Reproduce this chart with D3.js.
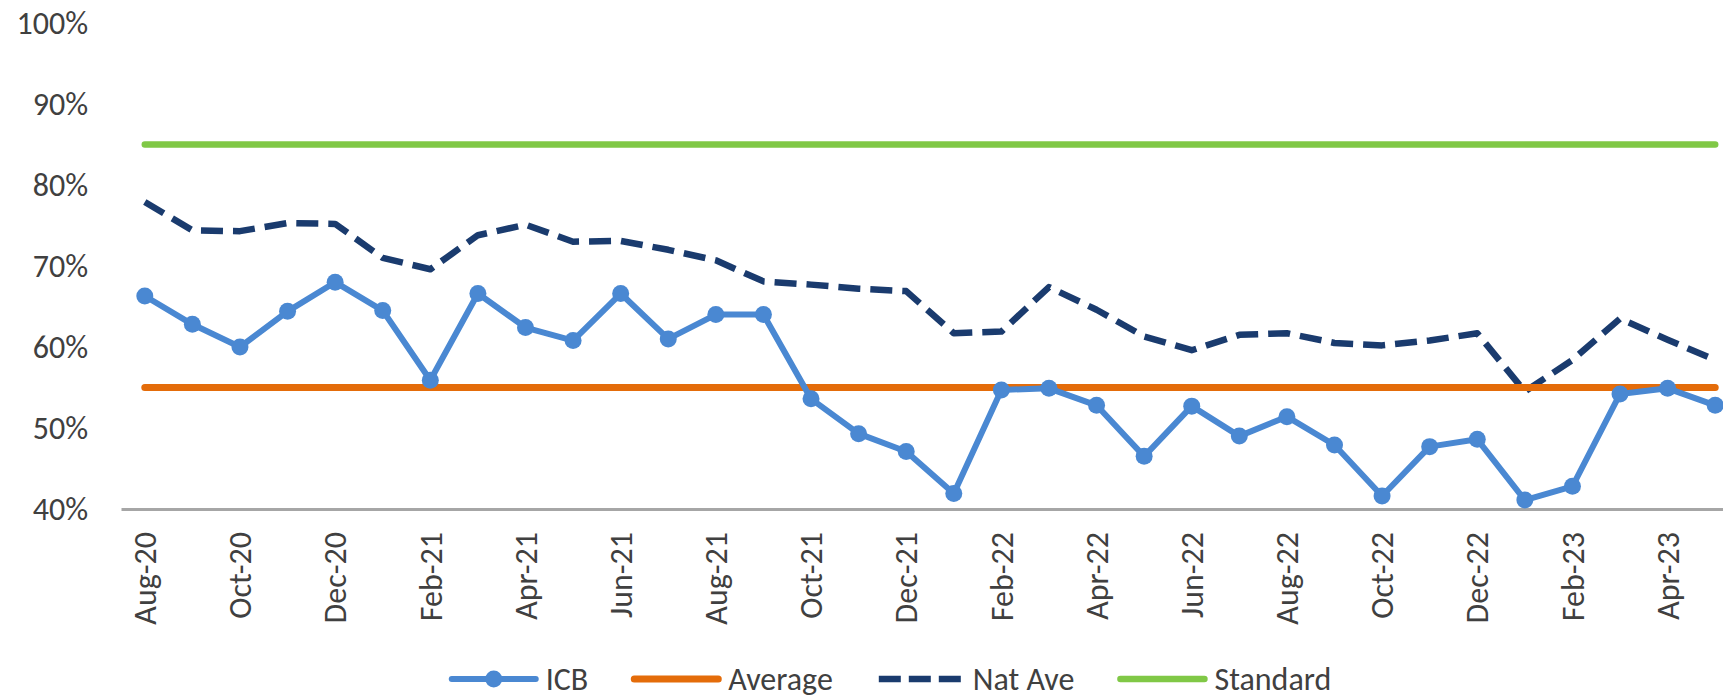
<!DOCTYPE html>
<html>
<head>
<meta charset="utf-8">
<script src="https://cdn.jsdelivr.net/npm/d3@7"></script>
<style>
    body { margin: 0; background: #fff; }
    #chart-area { width: 1723px; height: 698px; }
    text { font-family: Carlito, Lato, "Open Sans", sans-serif; fill: #404040; }
</style>
</head>
<body>
<div id="chart-area"></div>
<script>
// Months on the x axis
const months = ["Aug-20", "Sep-20", "Oct-20", "Nov-20", "Dec-20", "Jan-21", "Feb-21", "Mar-21", "Apr-21", "May-21",
    "Jun-21", "Jul-21", "Aug-21", "Sep-21", "Oct-21", "Nov-21", "Dec-21", "Jan-22", "Feb-22", "Mar-22",
    "Apr-22", "May-22", "Jun-22", "Jul-22", "Aug-22", "Sep-22", "Oct-22", "Nov-22", "Dec-22", "Jan-23",
    "Feb-23", "Mar-23", "Apr-23", "May-23"];

// Series values (%)
const icb = [66.3, 62.8, 60.0, 64.4, 68.0, 64.5, 55.9, 66.6, 62.4, 60.8,
    66.6, 61.0, 64.0, 64.0, 53.6, 49.3, 47.1, 41.9, 54.7, 54.9,
    52.8, 46.5, 52.7, 49.0, 51.4, 47.9, 41.6, 47.7, 48.6, 41.1,
    42.8, 54.2, 54.9, 52.8];
const natAve = [77.9, 74.4, 74.3, 75.3, 75.2, 71.0, 69.6, 73.8, 75.1, 73.0,
    73.1, 72.0, 70.7, 68.1, 67.7, 67.2, 66.9, 61.7, 61.9, 67.4,
    64.6, 61.3, 59.6, 61.5, 61.7, 60.5, 60.2, 60.8, 61.7, 54.5,
    58.4, 63.5, 60.9, 58.4];
const averageValue = 55;
const standardValue = 85;

// Axis ticks
const yTicks = [40, 50, 60, 70, 80, 90, 100];
const xTickLabels = months.filter((d, i) => i % 2 === 0);

// Legend entries
const legendNames = ["ICB", "Average", "Nat Ave", "Standard"];

let margin = {top: 23, left: 121};
let width = 1618, height = 486;
let fontSize = "32px";

let svg = d3.select("#chart-area").append("svg")
    .attr("width", 1723)
    .attr("height", 698);

let g = svg.append("g")
    .attr("transform", `translate(${margin.left},${margin.top})`);

// Scales
let x = d3.scaleBand().domain(months).range([0, width]);
let y = d3.scaleLinear().domain([40, 100]).range([height, 0]);
let cx = d => x(d) + x.bandwidth() / 2;

// Y axis (labels only)
let yAxis = g.append("g")
    .call(d3.axisLeft(y).tickValues(yTicks).tickFormat(d => d + "%").tickSize(0).tickPadding(33));
yAxis.select(".domain").remove();
yAxis.selectAll("text")
    .style("font-size", fontSize)
    .style("font-family", null)
    .attr("fill", null);

// X axis
let xAxis = g.append("g")
    .attr("transform", `translate(0,${height})`)
    .call(d3.axisBottom(x).tickValues(xTickLabels).tickSize(0).tickSizeOuter(0));
xAxis.select(".domain")
    .attr("stroke", "#a6a6a6")
    .attr("stroke-width", 3);
xAxis.selectAll("text")
    .attr("fill", null)
    .style("font-family", null)
    .style("font-size", fontSize)
    .attr("transform", "rotate(-90)")
    .attr("text-anchor", "end")
    .attr("x", -23)
    .attr("y", 0)
    .attr("dy", "0.35em");

let line = d3.line()
    .x(d => cx(d.month))
    .y(d => y(d.value));

let icbData = months.map((m, i) => ({month: m, value: icb[i]}));
let natData = months.map((m, i) => ({month: m, value: natAve[i]}));
let avgData = months.map(m => ({month: m, value: averageValue}));
let stdData = months.map(m => ({month: m, value: standardValue}));

// Standard
g.append("path")
    .datum(stdData)
    .attr("d", line)
    .attr("fill", "none")
    .attr("stroke", "#80c846")
    .attr("stroke-width", 6.5)
    .attr("stroke-linecap", "round");

// Nat Ave
g.append("path")
    .datum(natData)
    .attr("d", line)
    .attr("fill", "none")
    .attr("stroke", "#1a3b6e")
    .attr("stroke-width", 6.5)
    .attr("stroke-dasharray", "22,10")
    .attr("stroke-linejoin", "round");

// Average
g.append("path")
    .datum(avgData)
    .attr("d", line)
    .attr("fill", "none")
    .attr("stroke", "#e46c0a")
    .attr("stroke-width", 7)
    .attr("stroke-linecap", "round");

// ICB
g.append("path")
    .datum(icbData)
    .attr("d", line)
    .attr("fill", "none")
    .attr("stroke", "#4a88d2")
    .attr("stroke-width", 6)
    .attr("stroke-linejoin", "round");

g.selectAll(".icb-dot")
    .data(icbData)
    .enter().append("circle")
    .attr("class", "icb-dot")
    .attr("cx", d => cx(d.month))
    .attr("cy", d => y(d.value))
    .attr("r", 8.5)
    .attr("fill", "#4a88d2");

// Legend
let legendStyles = {
    "ICB": {color: "#4a88d2", dash: null, width: 6, dot: true},
    "Average": {color: "#e46c0a", dash: null, width: 7, dot: false},
    "Nat Ave": {color: "#1a3b6e", dash: "22,8", width: 6.5, dot: false},
    "Standard": {color: "#80c846", dash: null, width: 6.5, dot: false}
};

let legend = svg.append("g");
let lx = 0;
legendNames.forEach(name => {
    let s = legendStyles[name];
    let item = legend.append("g").attr("transform", `translate(${lx},0)`);
    item.append("line")
        .attr("x1", 3).attr("x2", 87)
        .attr("stroke", s.color)
        .attr("stroke-width", s.width)
        .attr("stroke-linecap", s.dash ? "butt" : "round")
        .attr("stroke-dasharray", s.dash);
    if (s.dot) {
        item.append("circle").attr("cx", 45).attr("r", 8.5).attr("fill", s.color);
    }
    let t = item.append("text")
        .attr("x", 97)
        .attr("dy", "0.35em")
        .style("font-size", fontSize)
        .text(name);
    lx += 97 + t.node().getComputedTextLength() + 43;
});
let legendWidth = lx - 43;
legend.attr("transform", `translate(${890 - legendWidth / 2},679)`);
</script>
</body>
</html>
